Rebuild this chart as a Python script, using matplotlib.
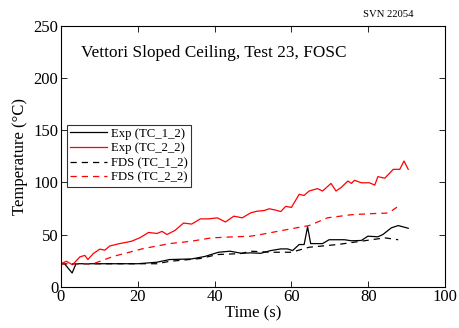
import matplotlib
matplotlib.use("Agg")
import matplotlib.pyplot as plt

plt.rcParams["font.family"] = ["Liberation Serif", "DejaVu Serif"]
plt.rcParams["mathtext.fontset"] = "stix"

# Exp TC_1_2
exp1_t = [0, 0.9, 2.9, 3.9, 8, 15, 20, 24.9, 28.3, 34, 37.5, 41, 44, 47, 49.4, 52,
          54.6, 57.2, 59, 60.3, 62, 63.3, 64.2, 65, 68.1, 69.8, 73.8, 75.6, 78.2,
          79.9, 82.5, 83.8, 86, 87.8, 90.4]
exp1_T = [22, 22, 13.1, 22, 22, 22, 22, 23.4, 26, 26.6, 29, 33, 34, 32, 32.4, 32,
          34.6, 36.2, 36.2, 34.6, 40.4, 40.4, 57.4, 41.3, 41.3, 45, 45, 44, 44.3,
          48.4, 47.8, 50, 56.4, 58.6, 56]

# Exp TC_2_2
exp2_t = [0, 1.4, 3, 4.9, 6.2, 7, 8.4, 10.1, 11.4, 12.7, 14.9, 18.4, 20.6, 22.8, 25,
          26.3, 27.6, 29.7, 31.9, 34, 36.3, 38.4, 40.7, 42.8, 45, 47.2, 49.4, 51.1,
          52.9, 54.2, 55.9, 57.2, 58.5, 60, 60.7, 62, 63.3, 64.6, 66.8, 68.1, 70.3,
          71.6, 72.9, 74.7, 75.6, 76.4, 78.2, 80.3, 81.7, 82.5, 84.3, 86.5, 88.2,
          89.3, 90.4]
exp2_T = [22, 24.3, 21, 28.5, 30, 26, 31.7, 36, 35, 39, 41, 43.6, 47, 52, 51, 53, 50,
          54, 61, 60, 65, 65, 66, 62, 67.6, 66, 70.8, 72.4, 73, 74.7, 73.4, 72, 77,
          76, 80.4, 88.5, 87.5, 91.7, 94, 91.7, 99, 91.7, 95, 101.3, 99, 102, 99.6,
          99.6, 97.4, 105.5, 104, 112.5, 112.5, 120.5, 112.5]

# FDS TC_1_2
fds1_t = [0, 10, 20, 25, 28.3, 36.3, 40.7, 46.7, 49.4, 54.6, 60, 64.6, 72, 78.2,
          84.3, 87.8]
fds1_T = [22, 22, 22, 22, 24.3, 27, 30.8, 31.7, 34, 33, 33, 37.8, 40.4, 43.6,
          46.8, 45]

# FDS TC_2_2
fds2_t = [0, 8.4, 13.6, 21.4, 28.3, 34, 39.2, 45, 49.4, 52, 59.8, 64.6, 69.4, 75.6,
          80.8, 85.2, 88.2]
fds2_T = [22, 22, 29, 36.5, 41.3, 43.6, 46.8, 47.8, 48.4, 50, 55.4, 58.6, 66, 69,
          70, 70.6, 78]

fig = plt.figure(figsize=(4.6, 3.28), dpi=100)
ax = fig.add_axes([0.1326, 0.126, 0.835, 0.795])

ax.plot(exp1_t, exp1_T, color="black", lw=0.9, label="Exp (TC_1_2)")
ax.plot(exp2_t, exp2_T, color="red", lw=0.9, label="Exp (TC_2_2)")
ax.plot(fds1_t, fds1_T, color="black", lw=0.9, ls=(0, (5, 4)), label="FDS (TC_1_2)")
ax.plot(fds2_t, fds2_T, color="red", lw=0.9, ls=(0, (5, 4)), label="FDS (TC_2_2)")

ax.set_xlim(0, 100)
ax.set_ylim(0, 250)
ax.set_xticks([0, 20, 40, 60, 80, 100])
ax.set_yticks([0, 50, 100, 150, 200, 250])
ax.tick_params(direction="in", top=True, right=True, labelsize=12, length=4,
               width=0.6, pad=2)
for s in ax.spines.values():
    s.set_linewidth(0.8)
ax.set_xlabel("Time (s)", fontsize=12, labelpad=0)
ax.set_ylabel("Temperature (\u00b0C)", fontsize=12, labelpad=4)

ax.text(0.053, 0.897, "Vettori Sloped Ceiling, Test 23, FOSC", transform=ax.transAxes,
        fontsize=12.4, va="center", ha="left")
fig.text(0.843, 0.957, "SVN 22054", fontsize=7.7, ha="center", va="center")

leg = ax.legend(loc="upper left", bbox_to_anchor=(0.016, 0.621), fontsize=9.2,
                frameon=True, fancybox=False, edgecolor="black", handlelength=2.9,
                borderpad=0.25, labelspacing=0.2, handletextpad=0.3, borderaxespad=0.0)
leg.get_frame().set_linewidth(0.8)

fig.savefig("out.png", dpi=100)
